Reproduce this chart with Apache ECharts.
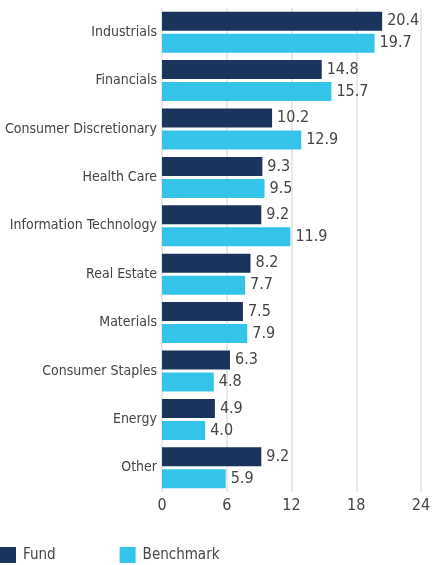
<!DOCTYPE html>
<html>
<head>
<meta charset="utf-8">
<script src="https://cdn.jsdelivr.net/npm/echarts@6/dist/echarts.min.js"></script>
<style>
  html, body { margin: 0; padding: 0; background: #fff; }
  #chart { width: 432px; height: 565px; }
</style>
</head>
<body>
<div id="chart"></div>
<script>
const categories = ['Industrials', 'Financials', 'Consumer Discretionary', 'Health Care', 'Information Technology', 'Real Estate', 'Materials', 'Consumer Staples', 'Energy', 'Other']
const fund = [20.4, 14.8, 10.2, 9.3, 9.2, 8.2, 7.5, 6.3, 4.9, 9.2]
const benchmark = [19.7, 15.7, 12.9, 9.5, 11.9, 7.7, 7.9, 4.8, 4.0, 5.9]
const xTicks = [0, 6, 12, 18, 24]

;(function () {
  let font = "'DejaVu Sans Condensed', 'Liberation Sans Narrow', sans-serif"
  let textColor = '#444'
  let myChart = echarts.init(document.getElementById('chart'))

  let barLabel = {
    show: true,
    position: 'right',
    distance: 5,
    color: textColor,
    fontFamily: font,
    fontSize: 16,
    formatter: p => p.value.toFixed(1)
  }

  let option = {
    animation: false,
    textStyle: { fontFamily: font },
    grid: {
      left: 162,
      right: 11,
      top: 8,
      bottom: 73,
      outerBoundsMode: 'none',
      containLabel: false
    },
    legend: {
      left: 0,
      bottom: 2,
      padding: 0,
      icon: 'rect',
      itemWidth: 16,
      itemHeight: 16,
      itemGap: 64,
      textStyle: { color: textColor, fontSize: 15, fontFamily: font, padding: [0, 0, 0, 2] },
      data: ['Fund', 'Benchmark']
    },
    xAxis: {
      type: 'value',
      min: xTicks[0],
      max: xTicks[xTicks.length - 1],
      interval: 6,
      axisLine: { show: false },
      axisTick: { show: false },
      axisLabel: { color: textColor, fontSize: 16, fontFamily: font, margin: 6 },
      splitLine: { show: true, lineStyle: { color: '#e8e8e8', width: 2 } }
    },
    yAxis: {
      type: 'category',
      inverse: true,
      data: categories,
      axisLine: { show: false },
      axisTick: { show: false },
      axisLabel: { color: textColor, fontSize: 14, fontFamily: font, margin: 5 }
    },
    series: [
      {
        name: 'Fund',
        type: 'bar',
        data: fund,
        barWidth: 19,
        barGap: '16%',
        itemStyle: { color: '#1a345e' },
        label: barLabel
      },
      {
        name: 'Benchmark',
        type: 'bar',
        data: benchmark,
        barWidth: 19,
        barGap: '16%',
        itemStyle: { color: '#35c4e9' },
        label: barLabel
      }
    ]
  }
  myChart.setOption(option)
})()
</script>
</body>
</html>
